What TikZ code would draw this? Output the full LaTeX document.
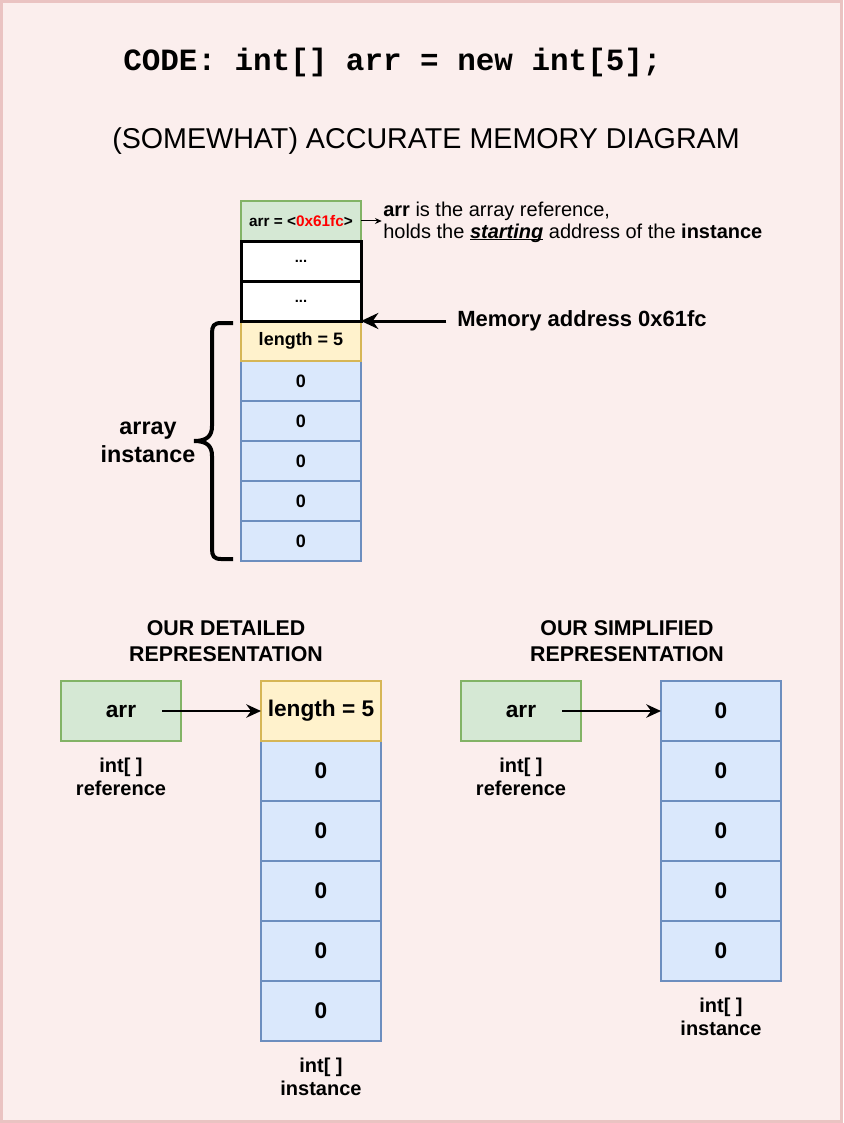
\documentclass[tikz,border=0pt]{standalone}
\usepackage{fontspec}
\setmainfont{Liberation Sans}
\newfontfamily\codefont{Liberation Mono}
\usetikzlibrary{arrows.meta}
\definecolor{bgfill}{RGB}{251,238,237}
\definecolor{bgline}{RGB}{234,195,194}
\definecolor{gfill}{HTML}{D5E8D4}
\definecolor{gline}{HTML}{82B366}
\definecolor{yfill}{HTML}{FFF2CC}
\definecolor{yline}{HTML}{D6B656}
\definecolor{bfill}{HTML}{DAE8FC}
\definecolor{bline}{HTML}{6C8EBF}
\definecolor{addrred}{HTML}{FF0000}
\newcommand\myul[1]{\setbox0\hbox{#1}\rlap{\rule[-1.7pt]{\wd0}{0.9pt}}\box0\relax}
\begin{document}
\begin{tikzpicture}[x=0.75pt,y=-0.75pt,
  cell/.style={draw, line width=1.5pt, minimum width=90pt, minimum height=30pt,
    inner sep=0pt, outer sep=0pt, font=\bfseries\fontsize{13.5}{16}\selectfont},
  bigcell/.style={cell, minimum height=45pt, font=\bfseries\fontsize{17}{20}\selectfont},
  gcell/.style={fill=gfill, draw=gline},
  ycell/.style={fill=yfill, draw=yline},
  bcell/.style={fill=bfill, draw=bline},
  wcell/.style={fill=white, draw=black, line width=2.25pt},
  lbl/.style={align=center, inner sep=0pt, font=\bfseries\fontsize{15}{17.25}\selectfont},
  head/.style={align=center, inner sep=0pt, font=\bfseries\fontsize{16}{19.5}\selectfont},
  ptr/.style={line width=1.9pt, -{Stealth[length=11pt,width=10pt]}},
]
\useasboundingbox (0,0) rectangle (843,1123);
\draw[bgline, fill=bgfill, line width=2.25pt] (1.5,1.5) rectangle (841.5,1121.5);

% titles
\node[anchor=base west, inner sep=0pt, font=\codefont\bfseries\fontsize{23.2}{26}\selectfont] (code) at (123,71) {CODE: int[] arr = new int[5];};
\node[anchor=base, inner sep=0pt, font=\fontsize{21.5}{24}\selectfont] (title) at (426,149) {(SOMEWHAT) ACCURATE MEMORY DIAGRAM};

% top memory column
\node[cell, gcell, font=\bfseries\fontsize{11.5}{14}\selectfont] (ref) at (301,221) {arr = <{\color{addrred}0x61fc}>};
\node[cell, bcell] (z1) at (301,381) {0};
\node[cell, bcell] (z2) at (301,421) {0};
\node[cell, bcell] (z3) at (301,461) {0};
\node[cell, bcell] (z4) at (301,501) {0};
\node[cell, bcell] (z5) at (301,541) {0};
\node[cell, ycell] (len) at (301,341) {length = 5};
\node[cell, wcell, font=\bfseries\fontsize{11}{13}\selectfont] (dot1) at (301,261) {...};
\node[cell, wcell, font=\bfseries\fontsize{11}{13}\selectfont] (dot2) at (301,301) {...};

% description of arr
\node[anchor=west, align=left, inner sep=0pt, font=\fontsize{15}{16.5}\selectfont] (desc) at (383,222)
  {\textbf{arr} is the array reference,\\holds the \myul{\textbf{\textit{starting}}} address of the \textbf{instance}};
\draw[line width=0.75pt, -{Stealth[length=5pt,width=4.5pt]}] (ref.east) -- ([xshift=-1pt]desc.west |- ref.east);

% memory address
\node[anchor=west, inner sep=0pt, font=\bfseries\fontsize{16.5}{19}\selectfont] (mem) at (457,321) {Memory address 0x61fc};
\draw[line width=2.25pt, -{Stealth[length=13pt,width=12pt]}] ([xshift=-8pt]mem.west) -- (dot2.south east);

% brace
\draw[line width=3pt, line cap=butt] (233,323) -- (221,323) .. controls (214,323) and (212,326) .. (212,333)
  -- (212,426) .. controls (212,436) and (207,441) .. (194,441)
  .. controls (207,441) and (212,446) .. (212,456)
  -- (212,549) .. controls (212,556) and (214,559) .. (221,559) -- (233,559);
\node[lbl, font=\bfseries\fontsize{17.5}{21}\selectfont] (arrinst) at (148,442) {array\\instance};

% detailed representation
\node[head] (h1) at (226,641) {OUR DETAILED\\REPRESENTATION};
\node[bigcell, gcell] (arrL) at (121,711) {arr};
\node[bigcell, bcell] (d1) at (321,771) {0};
\node[bigcell, bcell] (d2) at (321,831) {0};
\node[bigcell, bcell] (d3) at (321,891) {0};
\node[bigcell, bcell] (d4) at (321,951) {0};
\node[bigcell, bcell] (d5) at (321,1011) {0};
\node[bigcell, ycell] (lenL) at (321,711) {length = 5};
\draw[ptr] ([xshift=30.75pt]arrL.center) -- (lenL.west);
\node[lbl] (refL) at (121,777) {int[ ]\\reference};
\node[lbl] (instL) at (321,1077) {int[ ]\\instance};

% simplified representation
\node[head] (h2) at (627,641) {OUR SIMPLIFIED\\REPRESENTATION};
\node[bigcell, gcell] (arrR) at (521,711) {arr};
\node[bigcell, bcell] (s1) at (721,711) {0};
\node[bigcell, bcell] (s2) at (721,771) {0};
\node[bigcell, bcell] (s3) at (721,831) {0};
\node[bigcell, bcell] (s4) at (721,891) {0};
\node[bigcell, bcell] (s5) at (721,951) {0};
\draw[ptr] ([xshift=30.75pt]arrR.center) -- (s1.west);
\node[lbl] (refR) at (521,777) {int[ ]\\reference};
\node[lbl] (instR) at (721,1017) {int[ ]\\instance};
\end{tikzpicture}
\end{document}
